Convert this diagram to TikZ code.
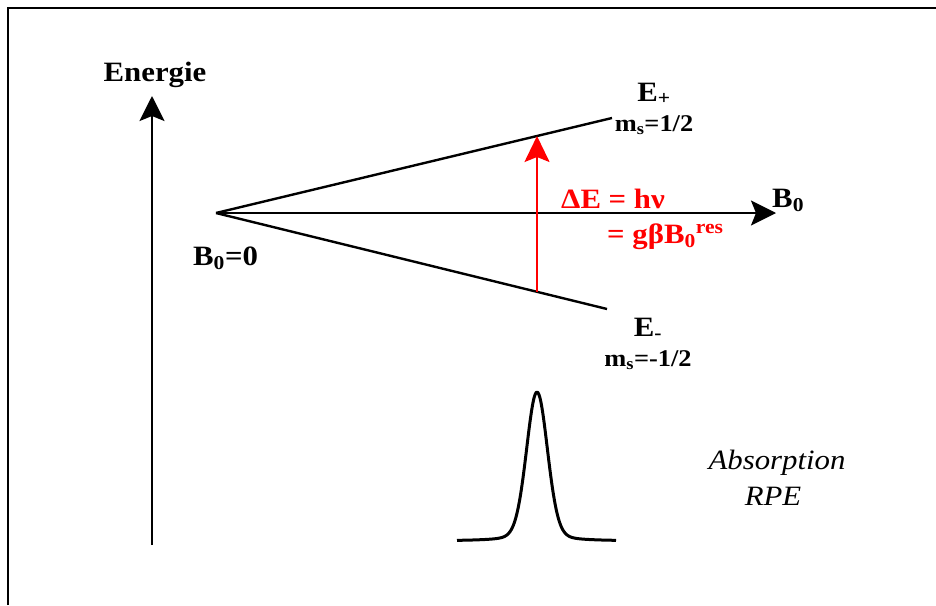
\documentclass[tikz,border=0pt]{standalone}
\usepackage{fontspec}
\setmainfont{Liberation Serif}[FakeStretch=1.1]
\usetikzlibrary{arrows.meta}
\definecolor{rpered}{RGB}{255,0,0}
\tikzset{
  axis/.style={-{Stealth[length=25pt,width=25pt,inset=5pt]},line width=2.4pt},
  level/.style={line width=2.4pt},
  transition/.style={-{Stealth[length=26pt,width=25pt,inset=5pt]},line width=2.2pt,draw=rpered},
  biglabel/.style={font=\fontsize{28}{32}\selectfont\bfseries,inner sep=0pt},
  spinlabel/.style={font=\fontsize{24}{28}\selectfont\bfseries,inner sep=0pt},
  redlabel/.style={biglabel,text=rpered},
  note/.style={font=\fontsize{28}{32}\selectfont\itshape,inner sep=0pt}
}

\begin{document}
\begin{tikzpicture}[x=1pt,y=-1pt]
\useasboundingbox (0,0) rectangle (936,605);

% frame
\draw[line width=2.8pt] (8,605) -- (8,8) -- (936,8);

% axes
\coordinate (ebot) at (152,545);
\coordinate (etop) at (152,96);
\coordinate (origin) at (216,213);
\coordinate (bend) at (776,213);
\draw[axis] (ebot) -- (etop);
\draw[axis] (origin) -- (bend);

\node[biglabel,anchor=base] (energie) at (155,81) {Energie};
\node[biglabel,anchor=base west] (bfield) at (772,207) {B\textsubscript{0}};
\node[biglabel,anchor=base west] (bzero) at (193,265) {B\textsubscript{0}=0};

% Zeeman levels
\coordinate (upend) at (612,118);
\coordinate (lowend) at (607,309);
\draw[level] (origin) -- (upend);
\draw[level] (origin) -- (lowend);

\node[biglabel,anchor=base] (eplus) at (654,101) {E\textsubscript{+}};
\node[spinlabel,anchor=base] (msplus) at (654,131) {m\textsubscript{s}=1/2};
\node[biglabel,anchor=base] (eminus) at (648,336) {E\textsubscript{-}};
\node[spinlabel,anchor=base] (msminus) at (648,366) {m\textsubscript{s}=-1/2};

% resonance
\coordinate (lowres) at (537,292);
\coordinate (upres) at (537,136);
\draw[transition] (lowres) -- (upres);
\node[redlabel,anchor=base west] (deltae) at (561,208) {ΔE = hν};
\node[redlabel,anchor=base west] (gbeta) at (607,243) {= gβB\textsubscript{0}\textsuperscript{res}};

% absorption line
\draw[line width=3pt,line join=round] plot[domain=-80:79,samples=160,smooth]
  ({537+\x},{541-149*(0.85*exp(-(\x)^2/220)+0.15/(1+(\x/14)^2))});
\node[note,anchor=base] (absorb) at (777,469) {Absorption};
\node[note,anchor=base] (rpe) at (773,505) {RPE};

\end{tikzpicture}
\end{document}
